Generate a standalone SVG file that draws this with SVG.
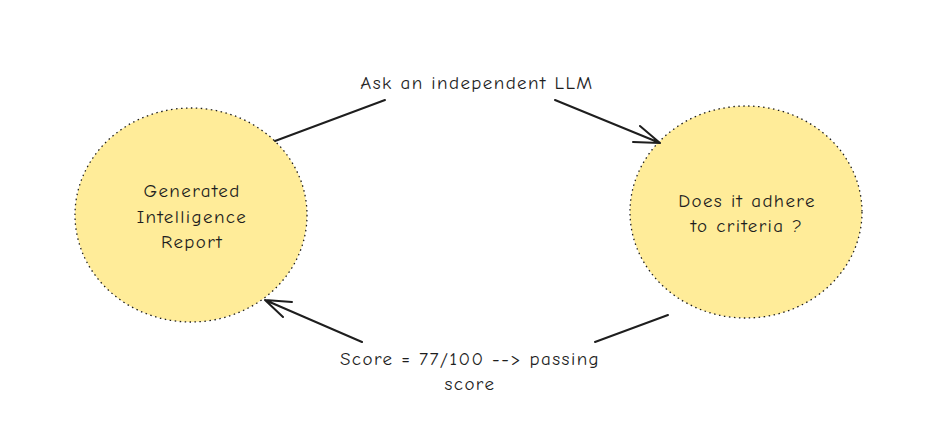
<svg xmlns="http://www.w3.org/2000/svg" width="945" height="431" viewBox="0 0 945 431">
<style>
.node{fill:#ffec99;stroke:#1e1e1e;stroke-width:1.3;stroke-dasharray:1.5 3.5}
.lbl{font-family:"Comic Neue","Liberation Sans",sans-serif;font-size:19px;fill:#1e1e1e;text-anchor:middle;letter-spacing:1.4px}
.edge{fill:none;stroke:#1e1e1e;stroke-width:2;stroke-linecap:round;stroke-linejoin:round}
</style>
<rect width="945" height="431" fill="#ffffff"/>
<g id="node-report">
<ellipse class="node" cx="191" cy="215" rx="116" ry="107"/>
<text class="lbl" x="192" y="197">Generated</text>
<text class="lbl" x="192" y="223">Intelligence</text>
<text class="lbl" x="192" y="248">Report</text>
</g>
<g id="node-criteria">
<ellipse class="node" cx="746" cy="212" rx="116" ry="106"/>
<text class="lbl" x="747" y="207">Does it adhere</text>
<text class="lbl" x="747" y="232">to criteria ?</text>
</g>
<g id="connectors">
<path class="edge" d="M275 141 L385 100 M555 100 L660 143 M640 126 L660 143 L633 142"/>
<path class="edge" d="M668 315 L595 342 M362 342 L265 300 M292 302 L265 300 L283 317"/>
<text class="lbl" x="477" y="89">Ask an independent LLM</text>
<text class="lbl" x="470" y="365">Score = 77/100 --&gt; passing</text>
<text class="lbl" x="470" y="390">score</text>
</g>
</svg>
